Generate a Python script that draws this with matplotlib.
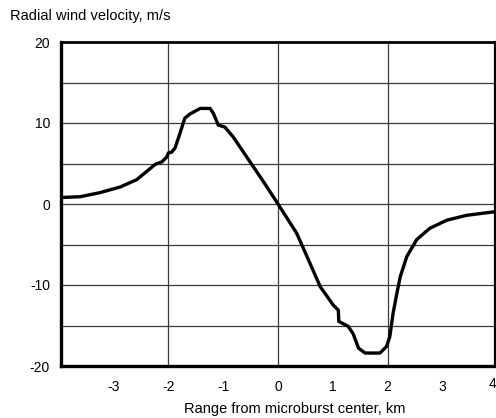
import matplotlib
matplotlib.use("Agg")
import matplotlib.pyplot as plt

plt.rcParams['font.family'] = ['Liberation Sans', 'DejaVu Sans']

# Profil de vent radial
range_km = [-3.96, -3.61, -3.25, -2.88, -2.58, -2.40, -2.24, -2.12, -2.03, -2.00,
            -1.94, -1.88, -1.79, -1.70, -1.61, -1.42, -1.24, -1.18, -1.09, -0.97,
            -0.82, -0.51, -0.25, 0.00, 0.34, 0.55, 0.77, 1.01, 1.10, 1.11,
            1.28, 1.37, 1.47, 1.59, 1.86, 1.98, 2.04, 2.10, 2.17, 2.23,
            2.35, 2.53, 2.77, 3.08, 3.44, 3.96]
velocity = [0.8, 0.9, 1.4, 2.1, 3.0, 4.0, 4.9, 5.2, 5.8, 6.3,
            6.4, 6.9, 8.7, 10.6, 11.1, 11.8, 11.8, 11.2, 9.75, 9.5,
            8.3, 5.2, 2.6, 0.0, -3.6, -6.8, -10.2, -12.5, -13.1, -14.5,
            -15.1, -16.0, -17.8, -18.4, -18.4, -17.6, -16.4, -13.5, -11.0, -9.0,
            -6.5, -4.4, -3.0, -2.0, -1.4, -0.95]

xtick_pos = [-3, -2, -1, 0, 1, 2, 3, 4]
xtick_labels = ['-3', '-2', '-1', '0', '1', '2', '3', '4']
ytick_pos = [-20, -10, 0, 10, 20]
v_grid = [-2, 0, 2]
h_grid = [-15, -10, -5, 0, 5, 10, 15]
minor_ticks = [-3, -1, 1, 3]

W, H = 496, 418
fig = plt.figure(figsize=(W / 100, H / 100), dpi=100)
ax = fig.add_axes([61 / W, (H - 366) / H, (495 - 61) / W, (366 - 42) / H])

for g in v_grid:
    ax.axvline(g, color='#3a3a3a', lw=0.9, zorder=1)
for g in h_grid:
    ax.axhline(g, color='#3a3a3a', lw=0.9, zorder=1)

ax.plot(range_km, velocity, color='black', lw=2.4, solid_capstyle='round',
        solid_joinstyle='round', zorder=3)

ax.set_xlim(-3.96, 3.96)
ax.set_ylim(-20, 20)

ax.set_yticks(ytick_pos)
ax.set_yticklabels([str(v) for v in ytick_pos], fontsize=10)
ax.tick_params(axis='y', length=0, pad=8)

ax.set_xticks(xtick_pos[:-1])
ax.set_xticklabels(xtick_labels[:-1], fontsize=10)
ax.tick_params(axis='x', which='major', length=0, pad=10)
ax.set_xticks(minor_ticks, minor=True)
ax.tick_params(axis='x', which='minor', direction='in', length=5, width=0.9)
# le "4" tombe sur le bord droit, ajoute a la main (cale a droite pour rester visible)
ax.text(3.99, -21.3, xtick_labels[-1], ha='right', va='top',
        fontsize=10, clip_on=False)

for side, w in [('left', 2.4), ('bottom', 2.4), ('top', 2.0), ('right', 1.6)]:
    ax.spines[side].set_linewidth(w)

fig.text(10 / W, 1 - 16 / H, 'Radial wind velocity, m/s', fontsize=10.5,
         ha='left', va='center')
fig.text(295 / W, 1 - 409 / H, 'Range from microburst center, km', fontsize=10.5,
         ha='center', va='center')

fig.savefig('out.png', dpi=100)
